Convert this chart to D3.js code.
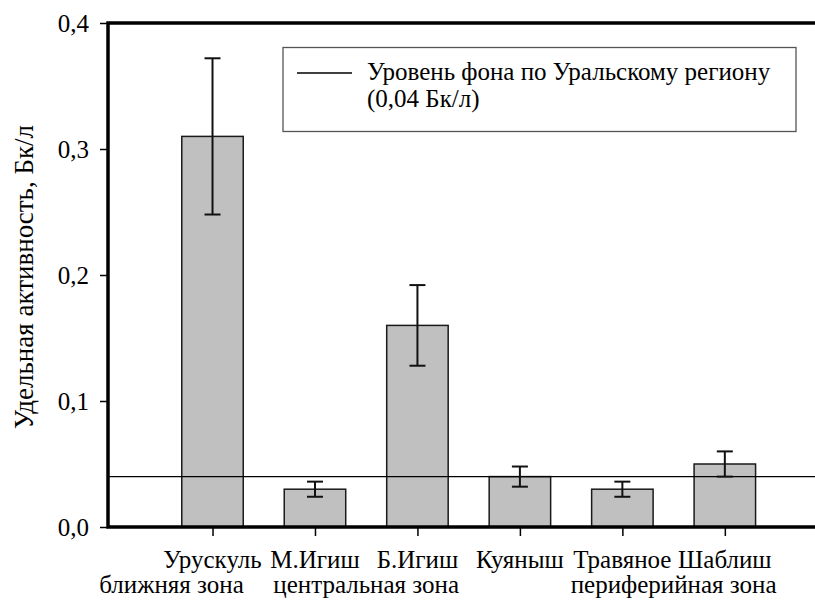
<!DOCTYPE html>
<html>
<head>
<meta charset="utf-8">
<script src="https://cdn.jsdelivr.net/npm/d3@7"></script>
<style>
  html, body { margin: 0; padding: 0; background: #fff; }
  svg { display: block; }
</style>
</head>
<body>
<svg id="chart" width="815" height="600"></svg>
<script>
// Sampling sites and their specific activity (Bq/l) with error half-widths
const sites = ["Урускуль", "М.Игиш", "Б.Игиш", "Куяныш", "Травяное", "Шаблиш"];
const activity = [0.31, 0.03, 0.16, 0.04, 0.03, 0.05];
const errors = [0.062, 0.006, 0.032, 0.008, 0.006, 0.010];
// Zone captions, placed between the sites they group
const zones = ["ближняя зона", "центральная зона", "периферийная зона"];
const zonePositions = [0.6, 2.5, 5.5];
const yTicks = [0, 0.1, 0.2, 0.3, 0.4];
const backgroundLevel = 0.04;
const legendLines = ["Уровень фона по Уральскому региону", "(0,04 Бк/л)"];
const yTitle = "Удельная активность, Бк/л";

const serif = "'Liberation Serif', Tinos, 'Noto Serif', FreeSerif, 'DejaVu Serif', serif";
const svg = d3.select("#chart");
const plotLeft = 108, plotRight = 815, plotTop = 23, plotBottom = 527;
const fontSize = 25;

const x = d3.scaleLinear().domain([-0.02, 6.88]).range([plotLeft, plotRight]);
const y = d3.scaleLinear().domain([0, 0.4]).range([plotBottom, plotTop]);
const barW = x(0.6) - x(0);

// Bars
svg.append("g").selectAll("rect")
  .data(activity)
  .join("rect")
  .attr("x", (d, i) => x(i + 1) - barW / 2)
  .attr("y", d => y(d))
  .attr("width", barW)
  .attr("height", d => y(0) - y(d))
  .attr("fill", "#c0c0c0")
  .attr("stroke", "#1a1a1a")
  .attr("stroke-width", 1.5);

// Background level line
svg.append("line")
  .attr("x1", plotLeft).attr("x2", plotRight)
  .attr("y1", y(backgroundLevel)).attr("y2", y(backgroundLevel))
  .attr("stroke", "#000").attr("stroke-width", 1.3);

// Error bars
const eb = svg.append("g").attr("stroke", "#111").attr("stroke-width", 2);
activity.forEach((v, i) => {
  const cx = x(i + 1), e = errors[i], cap = 8;
  eb.append("line").attr("x1", cx).attr("x2", cx).attr("y1", y(v + e)).attr("y2", y(v - e));
  eb.append("line").attr("x1", cx - cap).attr("x2", cx + cap).attr("y1", y(v + e)).attr("y2", y(v + e));
  eb.append("line").attr("x1", cx - cap).attr("x2", cx + cap).attr("y1", y(v - e)).attr("y2", y(v - e));
});

// Y axis
const yAxis = svg.append("g")
  .attr("transform", `translate(${plotLeft},0)`)
  .call(d3.axisLeft(y).tickValues(yTicks).tickSize(8).tickPadding(11)
    .tickFormat(d => d3.format(".1f")(d).replace(".", ",")));
yAxis.attr("font-family", serif).attr("font-size", fontSize);
yAxis.select(".domain").remove();
yAxis.selectAll(".tick line").attr("stroke", "#000").attr("stroke-width", 1.5);
yAxis.selectAll(".tick text").attr("dy", "0.32em").attr("fill", "#000");

// X axis ticks
const xAxis = svg.append("g")
  .attr("transform", `translate(0,${plotBottom})`)
  .call(d3.axisBottom(x).tickValues(d3.range(1, sites.length + 1)).tickSize(9).tickFormat(""));
xAxis.select(".domain").remove();
xAxis.selectAll(".tick line").attr("stroke", "#000").attr("stroke-width", 1.5);

// Frame lines: left, top and bottom
svg.append("path")
  .attr("d", `M${plotRight},${plotTop}H${plotLeft}V${plotBottom}H${plotRight}`)
  .attr("fill", "none").attr("stroke", "#000").attr("stroke-width", 3.5);

// Site labels
svg.append("g").selectAll("text")
  .data(sites)
  .join("text")
  .attr("x", (d, i) => x(i + 1))
  .attr("y", 568)
  .attr("text-anchor", "middle")
  .attr("font-family", serif)
  .attr("font-size", fontSize)
  .text(d => d);

// Zone labels
svg.append("g").selectAll("text")
  .data(zones)
  .join("text")
  .attr("x", (d, i) => x(zonePositions[i]))
  .attr("y", 593)
  .attr("text-anchor", "middle")
  .attr("font-family", serif)
  .attr("font-size", fontSize)
  .text(d => d);

// Y axis title
svg.append("text")
  .attr("transform", `translate(33,277) rotate(-90)`)
  .attr("text-anchor", "middle")
  .attr("font-family", serif)
  .attr("font-size", 27)
  .text(yTitle);

// Legend
const lg = svg.append("g");
lg.append("rect")
  .attr("x", 283).attr("y", 47.5).attr("width", 513).attr("height", 84)
  .attr("fill", "#fff").attr("stroke", "#555").attr("stroke-width", 1.3);
lg.append("line")
  .attr("x1", 297).attr("x2", 352).attr("y1", 73).attr("y2", 73)
  .attr("stroke", "#000").attr("stroke-width", 1.3);
lg.selectAll("text.leg")
  .data(legendLines)
  .join("text")
  .attr("class", "leg")
  .attr("x", 367)
  .attr("y", (d, i) => 80 + i * 27)
  .attr("font-family", serif)
  .attr("font-size", fontSize)
  .text(d => d);
</script>
</body>
</html>
